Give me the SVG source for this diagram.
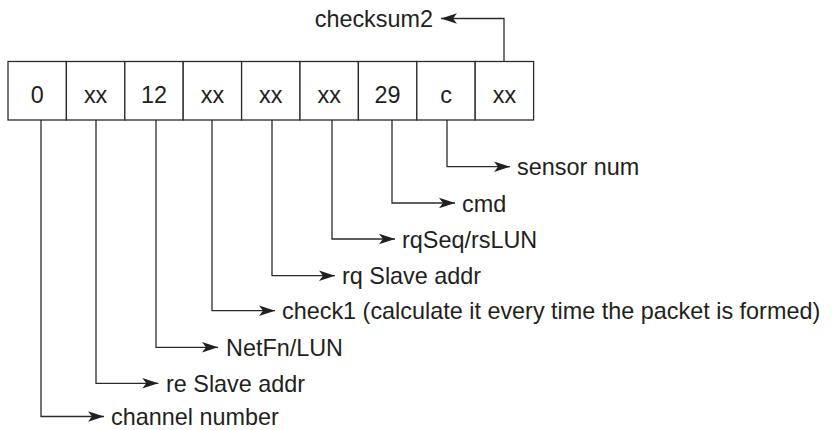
<svg xmlns="http://www.w3.org/2000/svg" width="835" height="430" viewBox="0 0 835 430">
<style>
  .cell { fill: #ffffff; stroke: #2b2b2b; stroke-width: 1.3; }
  .t { font-family: "Liberation Sans", Arial, Helvetica, sans-serif; font-size: 23.4px; fill: #231f20; }
  .c { text-anchor: middle; }
  .con { fill: none; stroke: #2b2b2b; stroke-width: 1.3; marker-end: url(#arr); }
</style>
<defs>
  <marker id="arr" markerUnits="userSpaceOnUse" viewBox="-17 -6 18 12" refX="0" refY="0" markerWidth="18" markerHeight="12" orient="auto">
    <polygon points="-16,-5.2 0,0 -16,5.2 -12,0" fill="#231f20"/>
  </marker>
</defs>
<rect width="835" height="430" fill="#ffffff"/>
<g id="packet">
  <g id="cell0"><rect class="cell" x="8" y="61.5" width="58.4" height="58.5"/><text class="t c" x="37.2" y="102.5">0</text></g>
  <g id="cell1"><rect class="cell" x="66.4" y="61.5" width="58.4" height="58.5"/><text class="t c" x="95.6" y="102.5">xx</text></g>
  <g id="cell2"><rect class="cell" x="124.8" y="61.5" width="58.4" height="58.5"/><text class="t c" x="154" y="102.5">12</text></g>
  <g id="cell3"><rect class="cell" x="183.2" y="61.5" width="58.4" height="58.5"/><text class="t c" x="212.4" y="102.5">xx</text></g>
  <g id="cell4"><rect class="cell" x="241.6" y="61.5" width="58.4" height="58.5"/><text class="t c" x="270.8" y="102.5">xx</text></g>
  <g id="cell5"><rect class="cell" x="300" y="61.5" width="58.4" height="58.5"/><text class="t c" x="329.2" y="102.5">xx</text></g>
  <g id="cell6"><rect class="cell" x="358.4" y="61.5" width="58.4" height="58.5"/><text class="t c" x="387.6" y="102.5">29</text></g>
  <g id="cell7"><rect class="cell" x="416.8" y="61.5" width="58.4" height="58.5"/><text class="t c" x="446" y="102.5">c</text></g>
  <g id="cell8"><rect class="cell" x="475.2" y="61.5" width="58.4" height="58.5"/><text class="t c" x="504.4" y="102.5">xx</text></g>
</g>
<g id="connectors">
  <path class="con" d="M504,61.5 V18.5 H441"/>
  <path class="con" d="M447,120 V166.7 H510"/>
  <path class="con" d="M392,120 V203 H455"/>
  <path class="con" d="M332,120 V239 H395"/>
  <path class="con" d="M272,120 V275.7 H335"/>
  <path class="con" d="M212,120 V310.7 H275"/>
  <path class="con" d="M156,120 V347.3 H218"/>
  <path class="con" d="M96,120 V383.3 H158.3"/>
  <path class="con" d="M41,120 V416.5 H104"/>
</g>
<g id="labels">
  <g id="l-checksum2"><text class="t" x="433" y="27" text-anchor="end">checksum2</text></g>
  <g id="l-sensor"><text class="t" x="517" y="175.3">sensor num</text></g>
  <g id="l-cmd"><text class="t" x="462" y="211.7">cmd</text></g>
  <g id="l-rqseq"><text class="t" x="402" y="247.7">rqSeq/rsLUN</text></g>
  <g id="l-rqslave"><text class="t" x="342" y="284.3">rq Slave addr</text></g>
  <g id="l-check1"><text class="t" x="282" y="319.3">check1 (calculate it every time the packet is formed)</text></g>
  <g id="l-netfn"><text class="t" x="226" y="356">NetFn/LUN</text></g>
  <g id="l-reslave"><text class="t" x="166" y="392">re Slave addr</text></g>
  <g id="l-channel"><text class="t" x="111" y="425">channel number</text></g>
</g>
</svg>
